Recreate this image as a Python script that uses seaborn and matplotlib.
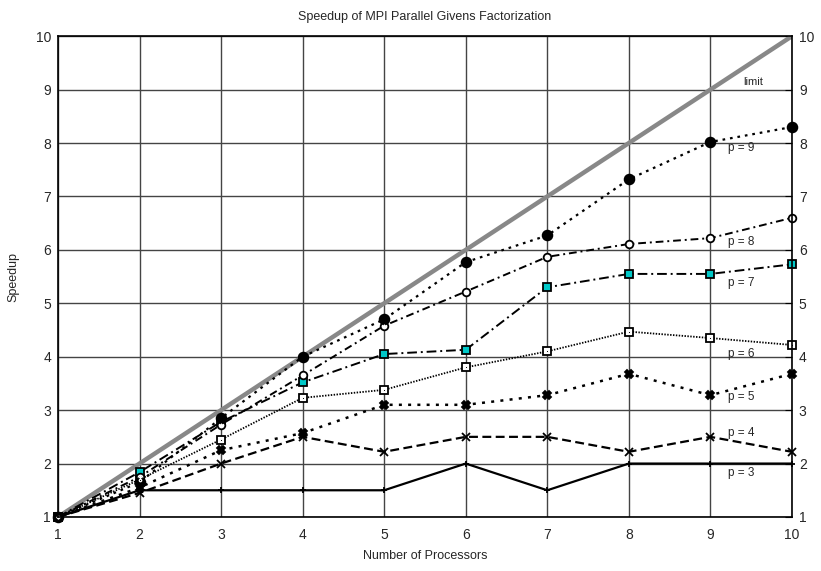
import numpy as np
import pandas as pd
import matplotlib
matplotlib.use('Agg')
import matplotlib.pyplot as plt
import seaborn as sns

processors = [1, 2, 3, 4, 5, 6, 7, 8, 9, 10]
limit = [1, 2, 3, 4, 5, 6, 7, 8, 9, 10]
p3 = [1, 1.5, 1.5, 1.5, 1.5, 2.0, 1.5, 2.0, 2.0, 2.0]
p4 = [1, 1.45, 2.0, 2.5, 2.22, 2.5, 2.5, 2.22, 2.5, 2.22]
p5 = [1, 1.55, 2.25, 2.57, 3.1, 3.1, 3.28, 3.68, 3.28, 3.68]
p6 = [1, 1.7, 2.45, 3.23, 3.38, 3.8, 4.1, 4.47, 4.35, 4.22]
p7 = [1, 1.84, 2.78, 3.52, 4.05, 4.13, 5.3, 5.55, 5.55, 5.73]
p8 = [1, 1.75, 2.73, 3.65, 4.58, 5.22, 5.87, 6.11, 6.22, 6.6]
p9 = [1, 1.65, 2.85, 4.0, 4.7, 5.77, 6.27, 7.32, 8.02, 8.3]
series_names = ['p = 3', 'p = 4', 'p = 5', 'p = 6', 'p = 7', 'p = 8', 'p = 9']
label_y = [1.82, 2.57, 3.25, 4.05, 5.38, 6.15, 7.91]

sns.set_style('white')
plt.rcParams['font.family'] = ['Liberation Sans', 'DejaVu Sans']

fig = plt.figure(figsize=(8.21, 5.71), dpi=100)
ax = fig.add_axes([0.0706, 0.0946, 0.894, 0.842])

# styles: (linestyle, marker, markerface, markersize, linewidth, inner marker)
styles = [
    ('-', '+', 'k', 5, 1.6, None),
    ((0, (4, 2)), 'x', 'k', 6, 1.6, None),
    ((0, (1.2, 2.5)), 'X', 'k', 6, 1.8, None),
    ((0, (0.8, 0.8)), 's', 'white', 5.5, 1.3, '.'),
    ((0, (5, 2, 1, 2)), 's', '#00c8c8', 5.5, 1.4, None),
    ((0, (4, 2, 1, 2)), 'o', 'white', 5.5, 1.4, '+'),
    ((0, (1.2, 2.2)), 'o', 'k', 7, 1.6, None),
]
all_series = [p3, p4, p5, p6, p7, p8, p9]

sns.lineplot(x=processors, y=limit, ax=ax, color='#888888', linewidth=3.2, zorder=3)
for vals, (ls, mk, mfc, ms, lw, inner) in zip(all_series, styles):
    sns.lineplot(x=processors, y=vals, ax=ax, color='black', linestyle=ls, linewidth=lw,
                 marker=mk, markersize=ms, markerfacecolor=mfc, markeredgecolor='black',
                 markeredgewidth=1.3, zorder=4, clip_on=False)
    if inner is not None:
        sns.lineplot(x=processors, y=vals, ax=ax, color='black', linestyle='none',
                     marker=inner, markersize=3.5, markeredgewidth=0.9, zorder=5,
                     clip_on=False)

ax.text(9.52, 9.15, 'limit', fontsize=8, ha='center', va='center')
for name, yy in zip(series_names, label_y):
    ax.text(9.38, yy, name, fontsize=8.5, ha='center', va='center')

ax.set_xlim(1, 10)
ax.set_ylim(1, 10)
ax.set_xticks(range(1, 11))
ax.set_yticks(range(1, 11))
ax.grid(True, color='#444444', linewidth=1.0)
for s in ax.spines.values():
    s.set_color('black')
    s.set_linewidth(1.2)
    s.set_zorder(6)
ax.tick_params(direction='in', length=5, labelsize=10, color='black', right=True, top=False)
ax.tick_params(axis='x', pad=8)
ax.tick_params(axis='y', labelright=True, pad=5)

ax.set_xlabel('Number of Processors', fontsize=9, labelpad=6)
ax.set_ylabel('Speedup', fontsize=9, labelpad=12)
ax.set_title('Speedup of MPI Parallel Givens Factorization', fontsize=9, pad=12)

fig.savefig('out.png', dpi=100)
